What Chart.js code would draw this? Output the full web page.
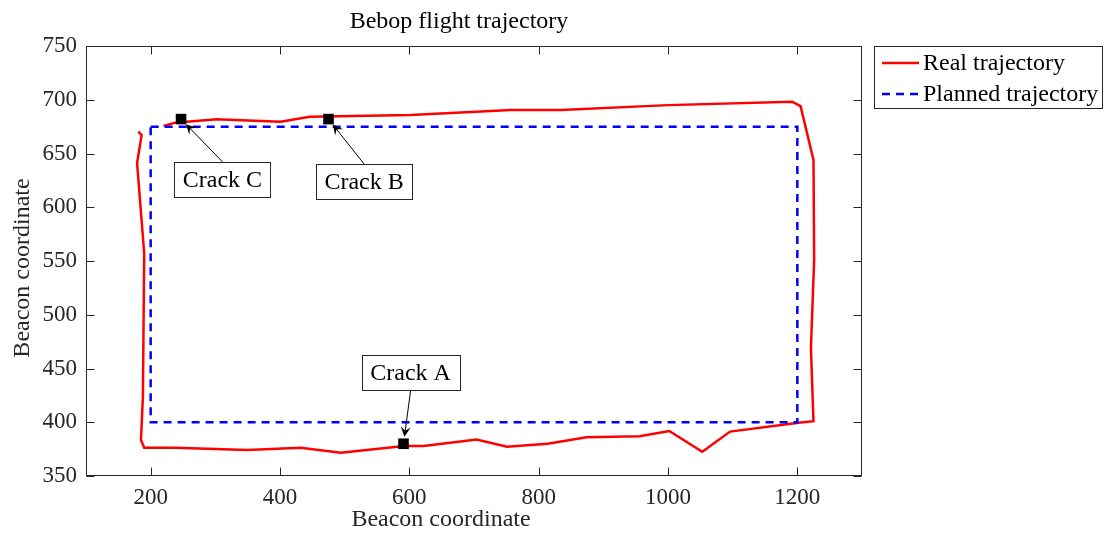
<!DOCTYPE html>
<html>
<head>
<meta charset="utf-8">
<script src="https://cdn.jsdelivr.net/npm/chart.js@4"></script>
<style>
  html, body { margin: 0; background: #fff; }
  #wrap { width: 1104px; height: 533px; }
</style>
</head>
<body>
<div id="wrap"><canvas id="traj" width="1104" height="533"></canvas></div>
<script>
// real flight path (beacon coordinates)
const realX = [220, 238, 256, 302, 401, 446, 602, 757, 835, 1000, 1192, 1205, 1225, 1226, 1221, 1225,
               1202, 1096, 1053, 1002, 956, 874, 814, 751, 704, 622, 592, 494, 432, 349, 238, 190,
               185, 188, 190, 179, 186, 181];
const realY = [675.6, 678.7, 679.6, 681.8, 679.6, 684.2, 685.8, 690.5, 690.5, 695, 698.2, 694, 644, 551, 469, 401,
               399.6, 391.3, 372.6, 391.8, 386.9, 386, 380, 377.3, 384, 378, 378, 371.7, 376.3, 374.2, 376.3, 376.3,
               383.5, 423.8, 557, 641, 667, 670.3];

// planned rectangle
const planX = [200, 1200, 1200, 200, 200];
const planY = [675, 675, 400, 400, 675];

// crack markers and their labels
const crackNames = ['Crack A', 'Crack B', 'Crack C'];
const crackX = [591, 475, 247];
const crackY = [380, 682, 682];
const labelX = [602, 530, 311];
const labelY = [446, 624, 626];

const xTicks = [200, 400, 600, 800, 1000, 1200];
const yTicks = [350, 400, 450, 500, 550, 600, 650, 700, 750];

const FONT = '"Liberation Serif", "Times New Roman", serif';
const INK = '#262626';

function pts(xs, ys) {
    return xs.map((x, i) => ({ x: x, y: ys[i] }));
}

function arrow(ctx, x0, y0, x1, y1) {
    const d = Math.hypot(x1 - x0, y1 - y0);
    const ux = (x1 - x0) / d, uy = (y1 - y0) / d;
    const tx = x1 - ux * 7, ty = y1 - uy * 7; // stop at the marker edge
    const L = 10, W = 5, nx = -uy, ny = ux;
    ctx.strokeStyle = '#000';
    ctx.lineWidth = 1;
    ctx.beginPath();
    ctx.moveTo(x0, y0);
    ctx.lineTo(tx - ux * 5, ty - uy * 5);
    ctx.stroke();
    ctx.fillStyle = '#000';
    ctx.beginPath();
    ctx.moveTo(tx, ty);
    ctx.lineTo(tx - ux * L + nx * W, ty - uy * L + ny * W);
    ctx.lineTo(tx - ux * L * 0.6, ty - uy * L * 0.6);
    ctx.lineTo(tx - ux * L - nx * W, ty - uy * L - ny * W);
    ctx.closePath();
    ctx.fill();
}

const decor = {
    id: 'decor',
    afterDatasetsDraw(chart) {
        const { ctx, chartArea: a, scales: { x, y } } = chart;
        ctx.save();

        // crack annotations
        ctx.font = '24px ' + FONT;
        crackNames.forEach((name, i) => {
            const mx = x.getPixelForValue(crackX[i]), my = y.getPixelForValue(crackY[i]);
            const cx = x.getPixelForValue(labelX[i]), cy = y.getPixelForValue(labelY[i]);
            const w = Math.round(ctx.measureText(name).width + 17), h = 35;
            const tailY = my < cy ? cy - h / 2 : cy + h / 2;
            arrow(ctx, cx, tailY, mx, my);
            const bx = Math.round(cx - w / 2) + 0.5, by = Math.round(cy - h / 2) + 0.5;
            ctx.fillStyle = '#fff';
            ctx.fillRect(bx, by, w, h);
            ctx.strokeStyle = INK;
            ctx.lineWidth = 1;
            ctx.strokeRect(bx, by, w, h);
            ctx.fillStyle = '#000';
            ctx.textAlign = 'center';
            ctx.textBaseline = 'middle';
            ctx.fillText(name, cx, cy + 1);
        });

        // axes box with inward ticks
        const l = Math.round(a.left) + 0.5, r = Math.round(a.right) - 0.5;
        const t = Math.round(a.top) + 0.5, b = Math.round(a.bottom) - 0.5;
        ctx.strokeStyle = INK;
        ctx.lineWidth = 1;
        ctx.strokeRect(l, t, r - l, b - t);
        ctx.beginPath();
        xTicks.forEach(v => {
            const px = Math.round(x.getPixelForValue(v)) + 0.5;
            ctx.moveTo(px, b); ctx.lineTo(px, b - 8);
            ctx.moveTo(px, t); ctx.lineTo(px, t + 8);
        });
        yTicks.forEach(v => {
            const py = Math.round(y.getPixelForValue(v)) + 0.5;
            ctx.moveTo(l, py); ctx.lineTo(l + 8, py);
            ctx.moveTo(r, py); ctx.lineTo(r - 8, py);
        });
        ctx.stroke();
        ctx.restore();
    },
    afterDraw(chart) {
        const { ctx } = chart;
        const sets = chart.data.datasets;
        ctx.save();
        ctx.font = '24px ' + FONT;
        ctx.fillStyle = '#000';

        // title and axis labels
        ctx.textAlign = 'center';
        ctx.textBaseline = 'alphabetic';
        ctx.fillText('Bebop flight trajectory', 459, 28);
        ctx.fillStyle = INK;
        ctx.fillText('Beacon coordinate', 441, 526);
        ctx.save();
        ctx.translate(29, 268);
        ctx.rotate(-Math.PI / 2);
        ctx.fillText('Beacon coordinate', 0, 0);
        ctx.restore();

        // legend
        const lx = 874.5, ly = 46.5;
        ctx.fillStyle = '#fff';
        ctx.fillRect(lx, ly, 228, 62);
        ctx.strokeStyle = INK;
        ctx.lineWidth = 1;
        ctx.strokeRect(lx, ly, 228, 62);
        [sets[2], sets[1]].forEach((ds, i) => {
            const yy = 63 + i * 31;
            ctx.strokeStyle = ds.borderColor;
            ctx.lineWidth = ds.borderWidth;
            ctx.setLineDash(ds.borderDash || []);
            ctx.beginPath();
            ctx.moveTo(882, yy);
            ctx.lineTo(919, yy);
            ctx.stroke();
            ctx.setLineDash([]);
            ctx.fillStyle = '#000';
            ctx.textAlign = 'left';
            ctx.textBaseline = 'middle';
            ctx.fillText(ds.label, 923, yy + 1);
        });
        ctx.restore();
    }
};

new Chart(document.getElementById('traj'), {
    type: 'scatter',
    data: {
        datasets: [
            {
                label: 'Cracks',
                data: pts(crackX, crackY),
                pointStyle: 'rect',
                pointRadius: 7.5,
                backgroundColor: '#000',
                borderColor: '#000',
                borderWidth: 0,
                showLine: false,
                order: 0
            },
            {
                label: 'Planned trajectory',
                data: pts(planX, planY),
                borderColor: '#0000ff',
                borderWidth: 2.5,
                borderDash: [8, 6],
                pointRadius: 0,
                showLine: true,
                fill: false,
                order: 1
            },
            {
                label: 'Real trajectory',
                data: pts(realX, realY),
                borderColor: '#ff0000',
                borderWidth: 2.5,
                pointRadius: 0,
                showLine: true,
                fill: false,
                order: 2
            }
        ]
    },
    options: {
        responsive: false,
        devicePixelRatio: 1,
        animation: false,
        layout: { padding: { top: 46, right: 242, left: 0, bottom: 0 } },
        plugins: {
            legend: { display: false },
            tooltip: { enabled: false },
            title: { display: false }
        },
        scales: {
            x: {
                type: 'linear',
                min: 100,
                max: 1300,
                afterBuildTicks: s => { s.ticks = xTicks.map(v => ({ value: v })); },
                afterFit: s => { s.height = 57; },
                grid: { display: false, drawTicks: false },
                border: { display: false },
                ticks: {
                    color: INK, font: { family: FONT, size: 23 }, padding: 8,
                    autoSkip: false, maxRotation: 0,
                    callback: v => String(v)
                }
            },
            y: {
                type: 'linear',
                min: 350,
                max: 750,
                afterBuildTicks: s => { s.ticks = yTicks.map(v => ({ value: v })); },
                afterFit: s => { s.width = 86; },
                grid: { display: false, drawTicks: false },
                border: { display: false },
                ticks: { color: INK, font: { family: FONT, size: 23 }, padding: 9, callback: v => String(v) }
            }
        }
    },
    plugins: [decor]
});
</script>
</body>
</html>
